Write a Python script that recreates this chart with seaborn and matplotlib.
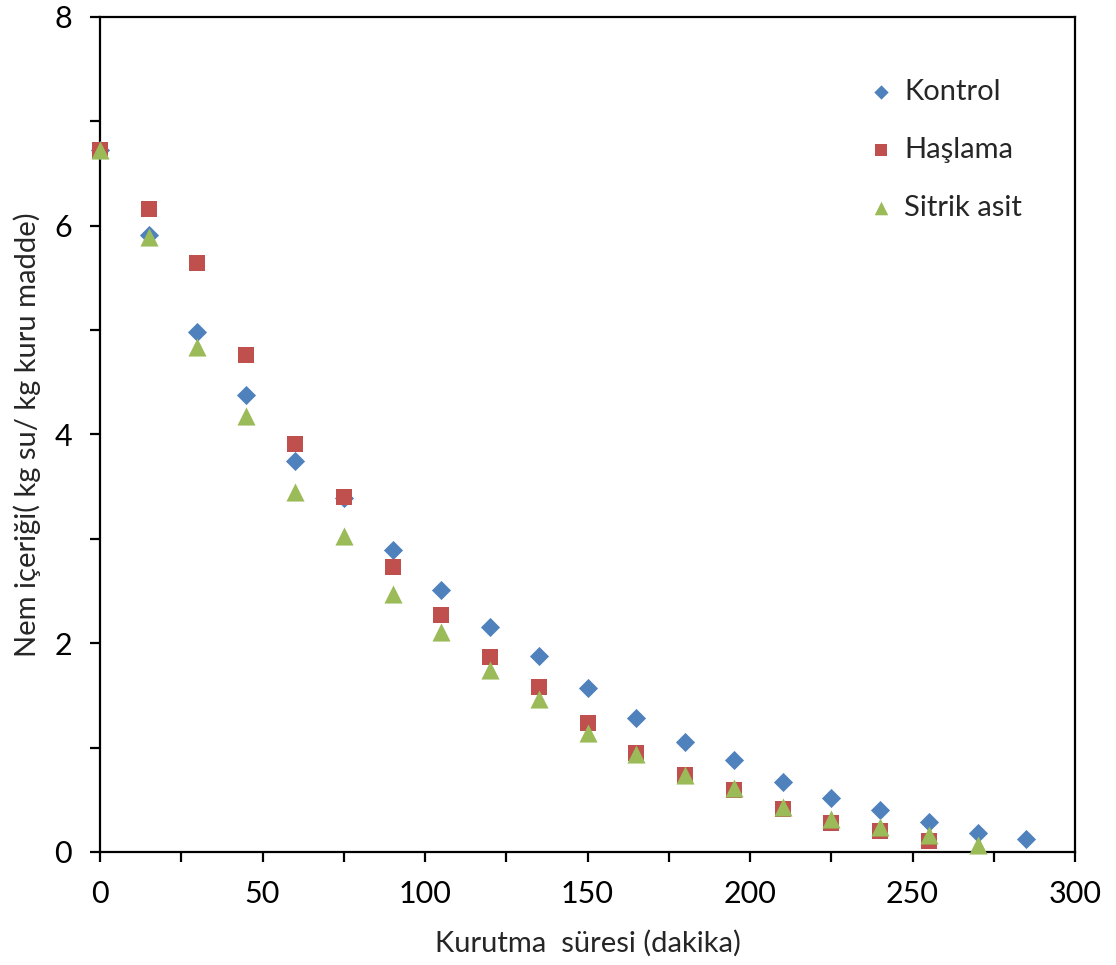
import matplotlib
matplotlib.use("Agg")
import matplotlib.pyplot as plt
from matplotlib.ticker import MultipleLocator
import seaborn as sns
import pandas as pd

# Drying time (minutes)
time_min = [0, 15, 30, 45, 60, 75, 90, 105, 120, 135, 150, 165, 180, 195,
            210, 225, 240, 255, 270, 285]

# Moisture content (kg water / kg dry matter) for each pre-treatment
kontrol = [6.73, 5.91, 4.98, 4.38, 3.75, 3.39, 2.89, 2.51, 2.16, 1.88, 1.57,
           1.28, 1.05, 0.88, 0.67, 0.52, 0.40, 0.29, 0.18, 0.12]
haslama = [6.73, 6.16, 5.64, 4.76, 3.91, 3.40, 2.73, 2.27, 1.87, 1.58, 1.24,
           0.95, 0.74, 0.59, 0.41, 0.28, 0.20, 0.11]
sitrik = [6.73, 5.89, 4.84, 4.18, 3.45, 3.03, 2.47, 2.11, 1.74, 1.47, 1.14,
          0.94, 0.74, 0.61, 0.43, 0.32, 0.24, 0.16, 0.07]

series_names = ["Kontrol", "Haşlama", "Sitrik asit"]
series_values = [kontrol, haslama, sitrik]
colors = ["#4F81BD", "#C0504D", "#9BBB59"]
markers = ["D", "s", "^"]
marker_sizes = [95, 125, 170]

x_ticks = [0, 50, 100, 150, 200, 250, 300]
y_ticks = [0, 2, 4, 6, 8]

frames = []
for name, vals in zip(series_names, series_values):
    frames.append(pd.DataFrame({"t": time_min[:len(vals)], "m": vals, "grup": name}))
df = pd.concat(frames, ignore_index=True)

sns.set_theme(style="ticks")
plt.rcParams["font.family"] = ["Lato", "DejaVu Sans"]

fig = plt.figure(figsize=(11.16, 9.65), dpi=100)
ax = fig.add_axes([0.0896, 0.1171, 0.8737, 0.8653])

for name, col, mk, sz in zip(series_names, colors, markers, marker_sizes):
    sns.scatterplot(data=df[df["grup"] == name], x="t", y="m", ax=ax,
                    color=col, marker=mk, s=sz, linewidth=0, label=name,
                    zorder=3, clip_on=False)

ax.set_xlim(0, 300)
ax.set_ylim(0, 8)
ax.set_xticks(x_ticks)
ax.set_yticks(y_ticks)
ax.xaxis.set_minor_locator(MultipleLocator(25))
ax.yaxis.set_minor_locator(MultipleLocator(1))

for side in ["left", "bottom", "top", "right"]:
    ax.spines[side].set_visible(True)
    ax.spines[side].set_color("black")
    ax.spines[side].set_linewidth(1.6)
    ax.spines[side].set_zorder(2)

ax.tick_params(axis="both", which="both", direction="out", length=7,
               width=1.6, colors="black", labelsize=22)
ax.tick_params(axis="x", which="both", top=False, pad=13)
ax.tick_params(axis="y", which="both", right=False, pad=13)

ax.set_xlabel("Kurutma  süresi (dakika)", fontsize=21, labelpad=16)
ax.set_ylabel("Nem içeriği( kg su/ kg kuru madde)", fontsize=21, labelpad=10)

leg = ax.legend(loc="upper left", bbox_to_anchor=(0.765, 0.94), frameon=False,
                fontsize=21, labelspacing=1.1, handletextpad=0.0,
                handlelength=1.6, markerscale=0.75, borderaxespad=0)

fig.savefig("out.png", dpi=100)
